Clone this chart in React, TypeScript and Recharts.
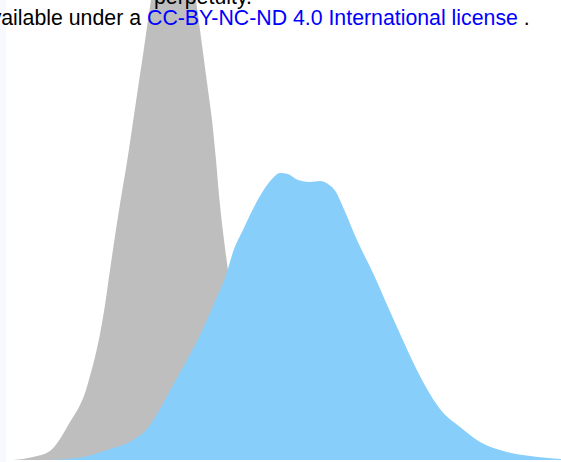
import React from 'react';
import { AreaChart, Area, XAxis, YAxis } from 'recharts';

// density of the reference group (grey), x in score units, y in density
const greyX = [1.3, 3.3, 5.0, 6.0, 7.0, 8.0, 8.5, 9.0, 9.5, 10.0, 10.5, 11.0, 11.5, 12.0, 12.7, 13.3, 13.8, 14.3, 14.7, 15.1, 16.0, 17.3, 18.6, 19.6, 20.0, 20.4, 20.8, 21.2, 21.6, 22.0, 22.4, 22.8, 23.3, 24.0, 24.8, 25.8, 27.0, 28.5, 31.0, 34.0];
const greyY = [0, 0.03, 0.09, 0.21, 0.38, 0.55, 0.67, 0.84, 1.03, 1.26, 1.55, 1.9, 2.24, 2.56, 2.98, 3.38, 3.72, 4.05, 4.33, 4.6, 5.35, 5.7, 5.35, 4.6, 4.3, 4.0, 3.7, 3.4, 3.0, 2.55, 2.2, 1.9, 1.55, 1.15, 0.75, 0.42, 0.2, 0.08, 0.02, 0];

// density of the comparison group (blue)
const blueX = [5.0, 8.3, 10.7, 13.3, 14.7, 16.0, 17.3, 18.7, 20.0, 21.3, 22.7, 23.3, 24.3, 25.3, 26.3, 27.2, 28.0, 28.8, 29.8, 31.0, 32.0, 32.8, 33.6, 34.3, 35.7, 37.3, 38.8, 40.1, 41.3, 42.7, 44.0, 46.0, 48.0, 50.0, 53.0, 56.1];
const blueY = [0, 0.03, 0.1, 0.2, 0.31, 0.51, 0.75, 1.0, 1.25, 1.54, 1.88, 2.08, 2.3, 2.51, 2.69, 2.81, 2.87, 2.86, 2.8, 2.78, 2.79, 2.76, 2.68, 2.53, 2.2, 1.87, 1.53, 1.24, 0.98, 0.71, 0.51, 0.33, 0.18, 0.1, 0.04, 0.01];

const headerLine1 = 'perpetuity.';
const headerLine2 = 'It is made available under a';
const licenseText = 'CC-BY-NC-ND 4.0 International license';
const headerEnd = ' .';

const greyData = greyX.map((x, i) => ({ x, y: greyY[i] }));
const blueData = blueX.map((x, i) => ({ x, y: blueY[i] }));

const textStyle: React.CSSProperties = {
  position: 'absolute',
  whiteSpace: 'nowrap',
  fontFamily: '"Liberation Sans", Arial, sans-serif',
  fontSize: 21.3,
  lineHeight: '24px',
  color: '#000',
};

export default function App() {
  return (
    <div
      style={{
        position: 'absolute',
        left: 0,
        top: 0,
        width: 561,
        height: 462,
        overflow: 'hidden',
        background: '#fff',
      }}
    >
      <div style={{ position: 'absolute', left: 0, top: 0, width: 6, height: 462, background: '#f7f9fe' }} />
      <div style={{ position: 'absolute', left: 0, top: 0 }}>
        <AreaChart width={561} height={460} margin={{ top: 0, right: 0, bottom: 0, left: 0 }}>
          <XAxis type="number" dataKey="x" domain={[0, 56.1]} hide allowDataOverflow />
          <YAxis type="number" domain={[0, 4.6]} hide allowDataOverflow />
          <Area
            data={greyData}
            dataKey="y"
            type="monotone"
            fill="#bebebe"
            fillOpacity={1}
            stroke="none"
            dot={false}
            activeDot={false}
            isAnimationActive={false}
          />
          <Area
            data={blueData}
            dataKey="y"
            type="monotone"
            fill="#87cefa"
            fillOpacity={1}
            stroke="none"
            dot={false}
            activeDot={false}
            isAnimationActive={false}
          />
        </AreaChart>
      </div>
      <div style={{ ...textStyle, left: 154, top: -15.4 }}>{headerLine1}</div>
      <div style={{ ...textStyle, right: 420, top: 5.6, textAlign: 'right' }}>{headerLine2}</div>
      <div style={{ ...textStyle, left: 147, top: 5.6 }}>
        <span style={{ color: '#0000ff' }}>{licenseText}</span>
        {headerEnd}
      </div>
    </div>
  );
}
